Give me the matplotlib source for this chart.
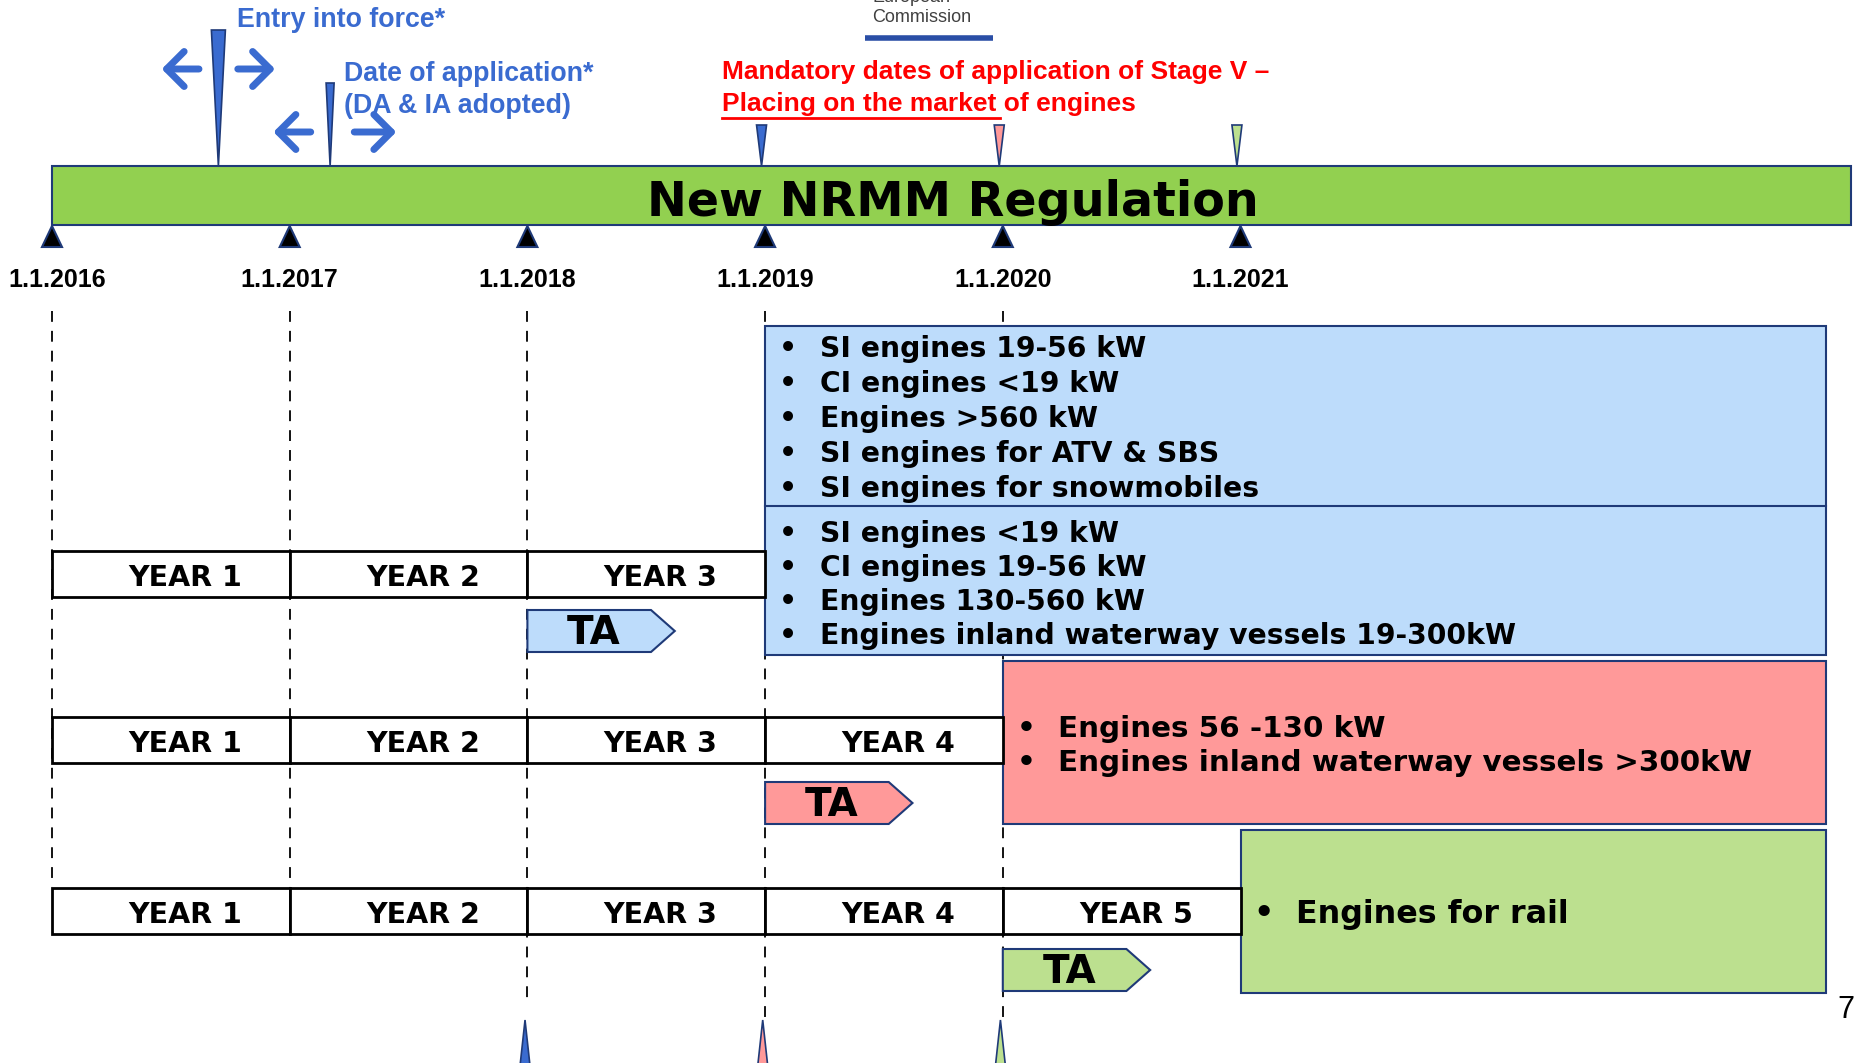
import matplotlib
matplotlib.use('Agg')
import matplotlib.pyplot as plt
from matplotlib.patches import Polygon, Rectangle, FancyArrowPatch

# timeline data
years = [2016, 2017, 2018, 2019, 2020, 2021]
date_labels = ['1.1.2016', '1.1.2017', '1.1.2018', '1.1.2019', '1.1.2020', '1.1.2021']
label_shift = [0.02, 0, 0, 0, 0, 0]
dash_end = [887, 887, 1006, 1018, 1018]          # dashed guide ends (px) for 2016..2020

# rows of years before each stage
row_end_year = [2019, 2020, 2021]
row_top = [551, 717, 888]
ta_start = [2018, 2019, 2020]
ta_top = [610, 782, 949]

# stage boxes
stage_start = [2019, 2020, 2021]
stage_colors = ['#BDDCFB', '#FF9999', '#BCE08F']
stage_marks = ['#3A6BD0', '#FF9999', '#BCE08F']
stage_box_y = [(326, 655), (661, 824), (830, 993)]
blue_items_1 = ['SI engines 19-56 kW', 'CI engines <19 kW', 'Engines >560 kW',
                'SI engines for ATV & SBS', 'SI engines for snowmobiles']
blue_items_2 = ['SI engines <19 kW', 'CI engines 19-56 kW', 'Engines 130-560 kW',
                'Engines inland waterway vessels 19-300kW']
blue_y_1 = [349, 384, 419, 454, 489]
blue_y_2 = [534, 568, 602, 636]
pink_items = ['Engines 56 -130 kW', 'Engines inland waterway vessels >300kW']
pink_y = [729, 763]
green_items = ['Engines for rail']
green_y = [915]

entry_year = 2016.70
doa_year = 2017.17
box_right = 2023.465
bar_right = 2023.57

BLUE = '#3A6BD0'
EDGE = '#1F3A78'
PX = 1 / 237.7   # years per pixel

fig = plt.figure(figsize=(18.6, 10.63), dpi=100)
ax = fig.add_axes([0, 0, 1, 1])
x0 = 2016 - 52 * PX
ax.set_xlim(x0, x0 + 1860 * PX)
ax.set_ylim(1063, 0)
ax.axis('off')

arial = ['Liberation Sans', 'DejaVu Sans']


def wedge(x, top, tip, hw, color, z=5):
    ax.add_patch(Polygon([(x - hw * PX, top), (x + hw * PX, top), (x, tip)],
                         closed=True, facecolor=color, edgecolor=EDGE, lw=1.2, zorder=z))


def arrow(xa, xb, y):
    ax.add_patch(FancyArrowPatch((xa, y), (xb, y), arrowstyle='->,head_length=0.9,head_width=0.9',
                                 color=BLUE, lw=5, mutation_scale=14, zorder=5))


# main bar
ax.add_patch(Rectangle((2016, 166), bar_right - 2016, 59, facecolor='#92D050',
                       edgecolor=EDGE, lw=1.5, zorder=3))
ax.text(2019.79, 202, 'New NRMM Regulation', ha='center', va='center',
        fontsize=34.3, fontweight='bold', family='DejaVu Sans', zorder=4)

# year ticks and labels
for yr, lab, sh in zip(years, date_labels, label_shift):
    ax.add_patch(Polygon([(yr - 10 * PX, 247), (yr + 10 * PX, 247), (yr, 226)], closed=True,
                         facecolor='black', edgecolor=EDGE, lw=1.5, zorder=4))
    ax.text(yr + sh, 280, lab, ha='center', va='center', fontsize=18, fontweight='bold',
            family=arial)

# dashed guides
for yr, ye in zip(years[:5], dash_end):
    ax.plot([yr, yr], [311, ye], color='black', lw=1.3, ls=(0, (6, 5)), zorder=1)

# entry into force / date of application
wedge(entry_year, 30, 166, 7, BLUE)
wedge(doa_year, 83, 166, 4, BLUE)
arrow(entry_year - 0.07, entry_year - 0.25, 69)
arrow(entry_year + 0.07, entry_year + 0.25, 69)
arrow(doa_year - 0.07, doa_year - 0.25, 132)
arrow(doa_year + 0.09, doa_year + 0.29, 132)
ax.text(2016.78, 20, 'Entry into force*', color=BLUE, fontsize=19.3, fontweight='bold',
        family=arial, va='center')
ax.text(2017.23, 74, 'Date of application*', color=BLUE, fontsize=19.3, fontweight='bold',
        family=arial, va='center')
ax.text(2017.23, 106, '(DA & IA adopted)', color=BLUE, fontsize=19.3, fontweight='bold',
        family=arial, va='center')

# logo
ax.text(2019.45, -2, 'European', color='#404040', fontsize=13, family=arial, va='center')
ax.text(2019.45, 18, 'Commission', color='#404040', fontsize=13, family=arial, va='center')
ax.plot([2019.42, 2019.96], [38, 38], color='#2A4EA6', lw=4, solid_capstyle='butt')

# mandatory dates text
RED = '#FF0000'
ax.text(2018.82, 72, 'Mandatory dates of application of Stage V \u2013', color=RED, fontsize=19,
        fontweight='bold', family=arial, va='center')
ax.text(2018.82, 104, 'Placing on the market of engines', color=RED, fontsize=19,
        fontweight='bold', family=arial, va='center')
ax.plot([2018.82, 2019.99], [118, 118], color=RED, lw=2)

# stage markers above bar and at bottom
for yr, c in zip(stage_start, stage_marks):
    wedge(yr - 0.015, 125, 166, 5, c)
for yr, c in zip(ta_start, stage_marks):
    wedge(yr - 0.01, 1075, 1020, 6, c)

# year rows
for end, top in zip(row_end_year, row_top):
    for i, yr in enumerate(range(2016, end)):
        ax.add_patch(Rectangle((yr, top), 1, 46, facecolor='white', edgecolor='black',
                               lw=2, zorder=3))
        ax.text(yr + 0.5 + 0.06, top + 27, f'YEAR {i + 1}', ha='center', va='center',
                fontsize=20.5, fontweight='bold', family='DejaVu Sans', zorder=4)

# TA arrows
for xs, top, c in zip(ta_start, ta_top, stage_colors):
    h = 42
    pts = [(xs, top), (xs + 0.52, top), (xs + 0.62, top + h / 2), (xs + 0.52, top + h), (xs, top + h)]
    ax.add_patch(Polygon(pts, closed=True, facecolor=c, edgecolor=EDGE, lw=1.5, zorder=3))
    ax.text(xs + 0.28, top + h / 2 + 2, 'TA', ha='center', va='center', fontsize=28,
            fontweight='bold', family='DejaVu Sans', zorder=4)

# stage boxes
for xs, (yt, yb), c in zip(stage_start, stage_box_y, stage_colors):
    ax.add_patch(Rectangle((xs, yt), box_right - xs, yb - yt, facecolor=c, edgecolor=EDGE,
                           lw=1.5, zorder=2))
ax.plot([2019, box_right], [506, 506], color=EDGE, lw=1.5, zorder=3)


def bullets(xs, items, ys, size):
    for t, y in zip(items, ys):
        ax.text(xs + 23 * PX, y, '\u2022', ha='center', va='center', fontsize=size,
                fontweight='bold', family='DejaVu Sans', zorder=4)
        ax.text(xs + 55 * PX, y, t, ha='left', va='center', fontsize=size,
                fontweight='bold', family='DejaVu Sans', zorder=4)


bullets(2019, blue_items_1, blue_y_1, 20.3)
bullets(2019, blue_items_2, blue_y_2, 20.3)
bullets(2020, pink_items, pink_y, 21.2)
bullets(2021, green_items, green_y, 22.9)

ax.text(1846 * PX + x0, 1010, '7', ha='center', va='center', fontsize=22, family=arial)

fig.savefig('out.png', dpi=100)
